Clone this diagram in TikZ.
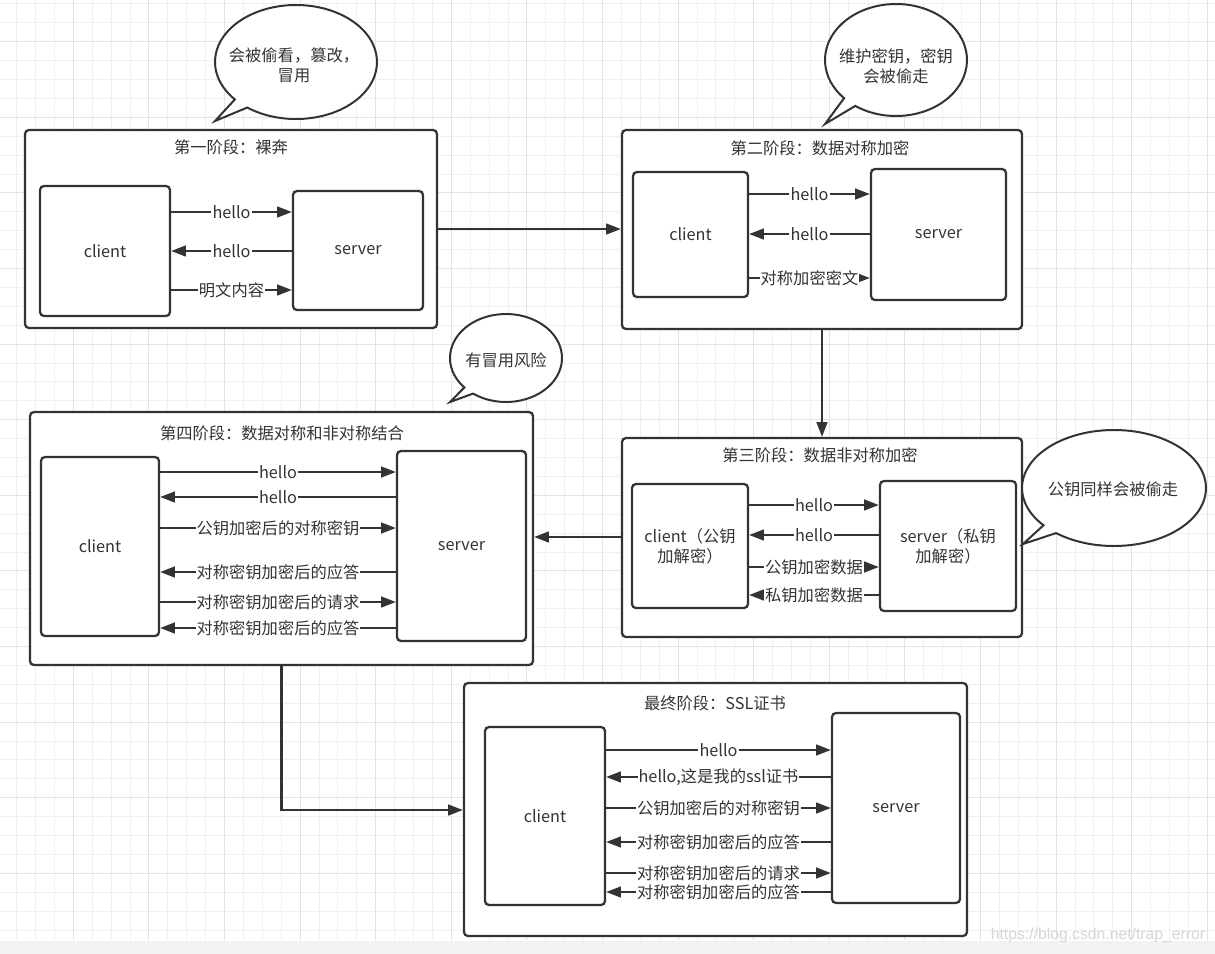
\documentclass[tikz,border=0pt]{standalone}
\usepackage{fontspec}
\setmainfont{Noto Sans CJK SC}
\newfontfamily\wmfont{Liberation Sans}
\usetikzlibrary{arrows.meta}
\definecolor{ink}{HTML}{333333}
\definecolor{gminorc}{HTML}{F0F0F0}
\definecolor{gmajorc}{HTML}{E3E3E3}
\definecolor{bandc}{HTML}{F2F2F2}
\definecolor{wmc}{HTML}{D6D6D6}
\newcommand\fz{\fontsize{12.2pt}{15pt}\selectfont}
\newcommand\speechbubble[8]{%
  \draw[bub] (#1,#2) ++(#5:#3 and #4) arc[start angle=#5, end angle=#6-360, x radius=#3, y radius=#4] -- (#7,#8) -- cycle;}
\begin{document}
\begin{tikzpicture}[x=0.75pt,y=-0.75pt,
  stagebox/.style={draw=ink, line width=1.7pt, rounded corners=3pt, fill=white, inner sep=0pt},
  party/.style={draw=ink, line width=1.7pt, rounded corners=3pt, fill=white, inner sep=0pt, text=ink, font=\fz, align=center},
  txt/.style={text=ink, font=\fz, align=center, inner sep=0pt},
  lbl/.style={fill=white, text=ink, font=\fz, inner sep=0.8pt},
  arr/.style={draw=ink, line width=1.6pt, -{Triangle[length=11pt,width=8pt]}},
  bub/.style={draw=ink, line width=1.5pt, fill=white},
  gminor/.style={draw=gminorc, line width=0.75pt},
  gmajor/.style={draw=gmajorc, line width=0.75pt}]
\useasboundingbox (0,0) rectangle (1215,954);
\fill[white] (0,0) rectangle (1215,954);
% grid
\foreach \i in {-3,...,60} \draw[gminor] ({73.3+18.9*\i},0) -- ({73.3+18.9*\i},940);
\foreach \i in {-2,...,47} \draw[gminor] (0,{41.7+18.9*\i}) -- (1215,{41.7+18.9*\i});
\foreach \i in {0,...,15} \draw[gmajor] ({73.3+75.6*\i},0) -- ({73.3+75.6*\i},940);
\foreach \i in {0,...,11} \draw[gmajor] (0,{41.7+75.6*\i}) -- (1215,{41.7+75.6*\i});
\fill[bandc] (0,941) rectangle (1215,954);
\node[font=\wmfont\fontsize{11.8pt}{12pt}\selectfont, text=wmc, inner sep=0pt] (wm) at (1098,935) {https://blog.csdn.net/trap\_error};

% ---------- stage 1
\node[stagebox, minimum width=309pt, minimum height=148.5pt] (st1) at (231,229) {};
\node[txt] (t1) at (231,147) {第一阶段：裸奔};
\node[party, minimum width=97.5pt, minimum height=97.5pt] (c1) at (105,251) {client};
\node[party, minimum width=97.5pt, minimum height=89.25pt] (s1) at (358,250.5) {server};
\draw[arr] (c1.east |- 0,212) -- node[lbl] {hello} (s1.west |- 0,212);
\draw[arr] (s1.west |- 0,251) -- node[lbl] {hello} (c1.east |- 0,251);
\draw[arr] (c1.east |- 0,290) -- node[lbl] {明文内容} (s1.west |- 0,290);

% ---------- stage 2
\node[stagebox, minimum width=300pt, minimum height=149.25pt] (st2) at (822,229.5) {};
\node[txt] (t2) at (820,148) {第二阶段：数据对称加密};
\node[party, minimum width=86.25pt, minimum height=93.75pt] (c2) at (690.5,234.5) {client};
\node[party, minimum width=101.25pt, minimum height=98.25pt] (s2) at (938.5,234.5) {server};
\draw[arr] (c2.east |- 0,194) -- node[lbl] {hello} (s2.west |- 0,194);
\draw[arr] (s2.west |- 0,234) -- node[lbl] {hello} (c2.east |- 0,234);
\draw[arr] (c2.east |- 0,278) -- node[lbl] {对称加密密文} (s2.west |- 0,278);

% ---------- stage 3
\node[stagebox, minimum width=300pt, minimum height=149.25pt] (st3) at (822,537.5) {};
\node[txt] (t3) at (820,455) {第三阶段：数据非对称加密};
\node[party, minimum width=87pt, minimum height=93pt] (c3) at (690,546) {client（公钥\\加解密）};
\node[party, minimum width=102pt, minimum height=97.5pt] (s3) at (948,546) {server（私钥\\加解密）};
\draw[arr] (c3.east |- 0,505) -- node[lbl] {hello} (s3.west |- 0,505);
\draw[arr] (s3.west |- 0,535) -- node[lbl] {hello} (c3.east |- 0,535);
\draw[arr] (c3.east |- 0,567) -- node[lbl] {公钥加密数据} (s3.west |- 0,567);
\draw[arr] (s3.west |- 0,595) -- node[lbl] {私钥加密数据} (c3.east |- 0,595);

% ---------- stage 4
\node[stagebox, minimum width=377.25pt, minimum height=189.75pt] (st4) at (281.5,538.5) {};
\node[txt] (t4) at (282,433) {第四阶段：数据对称和非对称结合};
\node[party, minimum width=88.5pt, minimum height=134.25pt] (c4) at (100,546.5) {client};
\node[party, minimum width=96.75pt, minimum height=142.5pt] (s4) at (461.5,546) {server};
\draw[arr] (c4.east |- 0,472) -- node[lbl] {hello} (s4.west |- 0,472);
\draw[arr] (s4.west |- 0,497) -- node[lbl] {hello} (c4.east |- 0,497);
\draw[arr] (c4.east |- 0,528) -- node[lbl] {公钥加密后的对称密钥} (s4.west |- 0,528);
\draw[arr] (s4.west |- 0,572) -- node[lbl] {对称密钥加密后的应答} (c4.east |- 0,572);
\draw[arr] (c4.east |- 0,602) -- node[lbl] {对称密钥加密后的请求} (s4.west |- 0,602);
\draw[arr] (s4.west |- 0,628) -- node[lbl] {对称密钥加密后的应答} (c4.east |- 0,628);

% ---------- final stage
\node[stagebox, minimum width=377.25pt, minimum height=189.75pt] (st5) at (715.5,809.5) {};
\node[txt] (t5) at (715,703) {最终阶段：SSL证书};
\node[party, minimum width=90pt, minimum height=133.5pt] (c5) at (545,816) {client};
\node[party, minimum width=96pt, minimum height=142.5pt] (s5) at (896,808) {server};
\draw[arr] (c5.east |- 0,750) -- node[lbl] {hello} (s5.west |- 0,750);
\draw[arr] (s5.west |- 0,777) -- node[lbl] {hello,这是我的ssl证书} (c5.east |- 0,777);
\draw[arr] (c5.east |- 0,808) -- node[lbl] {公钥加密后的对称密钥} (s5.west |- 0,808);
\draw[arr] (s5.west |- 0,842) -- node[lbl] {对称密钥加密后的应答} (c5.east |- 0,842);
\draw[arr] (c5.east |- 0,873) -- node[lbl] {对称密钥加密后的请求} (s5.west |- 0,873);
\draw[arr] (s5.west |- 0,892) -- node[lbl] {对称密钥加密后的应答} (c5.east |- 0,892);

% ---------- connectors between stages
\draw[arr] (st1.east) -- (st2.west |- st1.east);
\draw[arr] (st2.south) -- (st3.north);
\draw[arr] (st3.west |- 0,537) -- (st4.east |- 0,537);
\draw[arr] (st4.south) -- (st4.south |- 0,810) -- (st5.west |- 0,810);

% ---------- speech bubbles
\speechbubble{296}{62}{81}{57}{127}{139}{215}{121}
\node[txt] (b1) at (294,65) {会被偷看，篡改，\\冒用};
\speechbubble{896}{60}{71}{56}{125}{137}{825}{124}
\node[txt] (b2) at (896,66.5) {维护密钥，密钥\\会被偷走};
\speechbubble{506}{358}{56}{44}{126}{138}{450}{402}
\node[txt] (b4) at (506,360) {有冒用风险};
\speechbubble{1114}{488}{92}{58}{129}{140}{1023}{544}
\node[txt] (b3) at (1113,489) {公钥同样会被偷走};
\end{tikzpicture}
\end{document}
